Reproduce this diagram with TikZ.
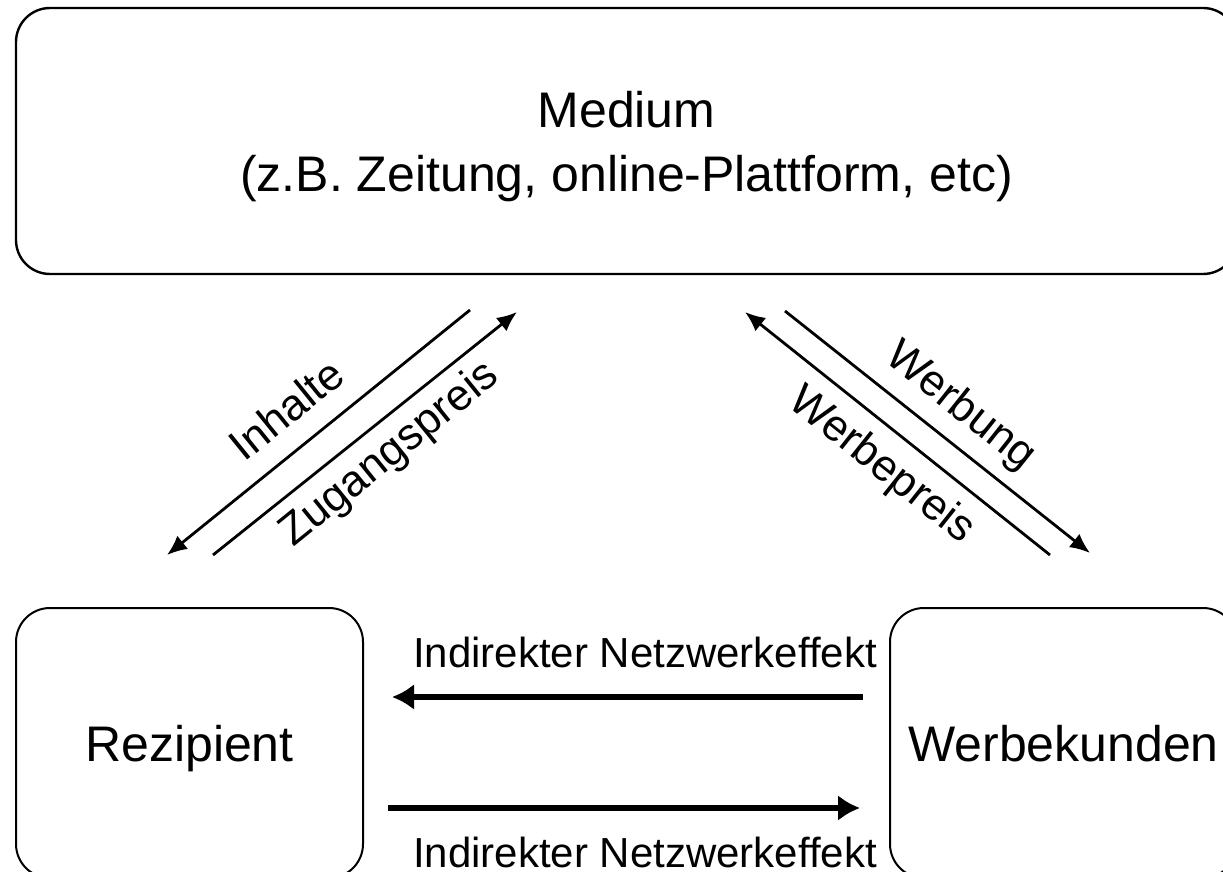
\documentclass[tikz,border=0pt]{standalone}
\usepackage{fontspec}
\setmainfont{Liberation Sans}
\usetikzlibrary{arrows.meta}
\begin{document}
\begin{tikzpicture}[x=0.5pt,y=-0.5pt,
  box/.style={draw=black, line width=1.2pt, rounded corners=17pt, fill=white,
    text depth=0pt, align=center, font=\fontsize{25}{32}\selectfont, inner sep=0pt},
  lbl/.style={font=\fontsize{22}{26}\selectfont, inner sep=0pt},
  hlbl/.style={font=\fontsize{21}{25}\selectfont, inner sep=0pt},
  diag/.style={line width=1.4pt, -{Latex[length=10pt,width=8.5pt]}},
  horiz/.style={line width=2.6pt, -{Latex[length=11pt,width=13pt]}}]
\useasboundingbox (0,0) rectangle (1223,872);
\clip (0,0) rectangle (1223,872);

% boxes
\node[box, minimum width=610.5pt, minimum height=133pt] (medium) at (626.5,141)
  {Medium\\(z.B. Zeitung, online-Plattform, etc)};
\node[box, line width=1pt, minimum width=173.5pt, minimum height=135pt] (rez) at (189.5,743) {Rezipient};
\node[box, line width=1pt, minimum width=173.5pt, minimum height=135pt] (werb) at (1063.5,743) {Werbekunden};

% diagonal arrow end points
\coordinate (a1s) at (470,310); \coordinate (a1e) at (167,555);
\coordinate (a2s) at (213,555); \coordinate (a2e) at (517,312);
\coordinate (b1s) at (1050,555); \coordinate (b1e) at (745,312);
\coordinate (b2s) at (785,311); \coordinate (b2e) at (1090,553);
\draw[diag] (a1s) -- (a1e);
\draw[diag] (a2s) -- (a2e);
\draw[diag] (b1s) -- (b1e);
\draw[diag] (b2s) -- (b2e);

\node[lbl, rotate=39] (inhalte) at (286,409) {Inhalte};
\node[lbl, rotate=39] (zugang) at (390,455) {Zugangspreis};
\node[lbl, rotate=-38.5] (werbung) at (960,407) {Werbung};
\node[lbl, rotate=-38.5] (werbepreis) at (881,466) {Werbepreis};

% horizontal arrows
\coordinate (h1s) at (863,697); \coordinate (h1e) at (392,697);
\coordinate (h2s) at (388,808); \coordinate (h2e) at (860,808);
\draw[horiz] (h1s) -- (h1e);
\draw[horiz] (h2s) -- (h2e);
\node[hlbl, anchor=base] (ind1) at (645,667) {Indirekter Netzwerkeffekt};
\node[hlbl, anchor=base] (ind2) at (645,867) {Indirekter Netzwerkeffekt};
\end{tikzpicture}
\end{document}
